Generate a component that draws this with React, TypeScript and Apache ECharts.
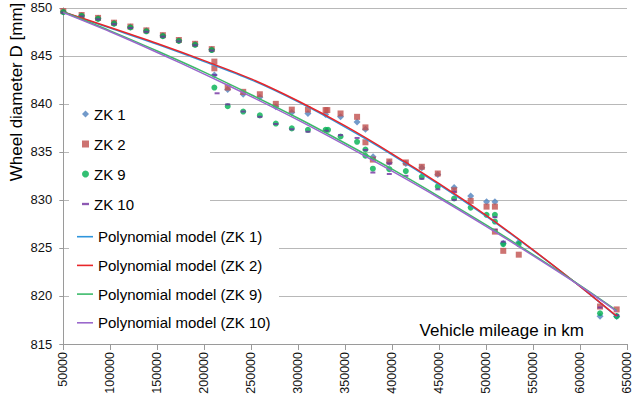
import React, { useEffect, useRef } from "react";
import * as echarts from "echarts";

const FONT = '"Liberation Sans", Arial, Helvetica, sans-serif';

const seriesNames = ["ZK 1", "ZK 2", "ZK 9", "ZK 10"];
const modelNames = [
  "Polynomial model (ZK 1)",
  "Polynomial model (ZK 2)",
  "Polynomial model (ZK 9)",
  "Polynomial model (ZK 10)",
];

// measured points: [vehicle mileage km, wheel diameter mm]
const zk1 = [
  [50000, 849.6], [69500, 849.2], [87000, 848.9], [104000, 848.4], [121400, 848.0],
  [138400, 847.6], [156000, 847.1], [173000, 846.6], [190300, 846.2], [208000, 845.65],
  [210800, 843.0], [225000, 841.5], [241500, 841.0], [259200, 840.7], [276200, 839.7],
  [293200, 839.1], [310400, 839.0], [329200, 838.9], [345100, 838.65], [362700, 838.1],
  [371600, 837.35], [379700, 834.5], [397000, 833.9], [414600, 833.8], [431600, 833.35],
  [448600, 832.65], [466000, 831.3], [483600, 830.4], [500500, 829.8], [509400, 829.8],
  [518300, 825.5], [534800, 825.6], [621300, 817.9], [639000, 817.85],
];
const zk2 = [
  [50000, 849.65], [69500, 849.25], [87000, 848.95], [104000, 848.45], [121400, 848.05],
  [138400, 847.65], [156000, 847.15], [173000, 846.65], [190300, 846.25], [208000, 845.7],
  [210800, 844.4], [210800, 843.7], [225000, 841.7], [241500, 841.25], [259200, 841.0],
  [276200, 840.0], [293200, 839.4], [310400, 839.4], [329200, 839.35], [331000, 839.35],
  [345100, 839.0], [362700, 838.65], [371600, 837.55], [371600, 836.0], [379500, 834.2],
  [397000, 834.0], [414600, 833.9], [431600, 833.45], [448600, 832.75], [466000, 831.0],
  [483600, 829.9], [500500, 829.3], [509400, 829.3], [509400, 826.7], [518300, 824.7],
  [534800, 824.3], [621300, 818.9], [639000, 818.6],
];
const zk9 = [
  [50000, 849.55], [69500, 849.15], [87000, 848.85], [104000, 848.35], [121400, 847.95],
  [138400, 847.55], [156000, 847.05], [173000, 846.55], [190300, 846.15], [208000, 845.6],
  [210800, 841.7], [225000, 839.75], [241500, 839.2], [259200, 838.8], [276200, 837.95],
  [293200, 837.45], [310400, 837.3], [329200, 837.3], [331800, 837.3], [345100, 836.6],
  [362700, 836.05], [371600, 835.25], [371600, 834.6], [379500, 833.25], [397000, 833.2],
  [414600, 833.0], [431600, 832.4], [448600, 831.4], [466000, 830.15], [483600, 829.2],
  [500500, 828.45], [509400, 828.45], [509400, 827.75], [518300, 825.4], [534800, 825.4],
  [621300, 818.2], [639000, 817.9],
];
const zk10 = [
  [50000, 849.5], [69500, 849.1], [87000, 848.8], [104000, 848.3], [121400, 847.9],
  [138400, 847.5], [156000, 847.0], [173000, 846.5], [190300, 846.1], [208000, 845.55],
  [210800, 843.0], [213700, 841.1], [225000, 839.95], [241500, 839.2], [259200, 838.65],
  [276200, 837.9], [293200, 837.35], [310400, 837.1], [330000, 837.2], [345100, 836.75],
  [362700, 836.45], [371600, 835.2], [379500, 834.3], [379500, 832.85], [397000, 833.8],
  [397000, 832.7], [414600, 832.5], [431600, 832.2], [448600, 831.1], [466000, 830.85],
  [466000, 830.0], [509400, 828.2], [509400, 826.9], [518300, 825.65], [621300, 818.8],
  [639000, 818.0],
];

// polynomial model curves
const modelKm = [50000, 100000, 150000, 200000, 250000, 300000, 350000, 400000, 450000, 500000, 550000, 600000, 639000];
const model1 = [849.56, 847.88, 846.2, 844.4, 842.5, 840.2, 837.58, 834.7, 831.6, 828.3, 824.75, 821.0, 817.85];
const model2 = [849.56, 847.95, 846.28, 844.5, 842.6, 840.3, 837.7, 834.8, 831.7, 828.4, 824.8, 821.0, 817.9];
const model9 = [849.56, 847.6, 845.5, 843.3, 840.95, 838.5, 835.9, 833.2, 830.35, 827.4, 824.3, 821.1, 818.48];
const model10 = [849.5, 847.5, 845.35, 843.1, 840.75, 838.3, 835.7, 833.0, 830.2, 827.25, 824.2, 821.05, 818.4];

const markerColors = ["#4f81bd", "#c0504d", "#00b050", "#7030a0"];
const lineColors = ["#2f95dc", "#e8262a", "#3dba6a", "#9a68cc"];

const dashIcon = "path://M0,0H6V2H0Z";
const lineIcon = "path://M0,0H16V1.6H0Z";

export default function App() {
  const ref = useRef<HTMLDivElement>(null);
  useEffect(() => {
    if (!ref.current) return;
    const chart = echarts.init(ref.current, undefined, { renderer: "svg" });
    const pts = [zk1, zk2, zk9, zk10];
    const models = [model1, model2, model9, model10];
    const symbols: any[] = ["diamond", "rect", "circle", dashIcon];
    const sizes: any[] = [7, 6, 6, [5, 2]];
    const scatter = seriesNames.map((n, i) => ({
      name: n,
      type: "scatter",
      data: pts[i],
      symbol: symbols[i],
      symbolSize: sizes[i],
      symbolKeepAspect: false,
      itemStyle: { color: markerColors[i] },
      z: 2,
    }));
    const lines = modelNames.map((n, i) => ({
      name: n,
      type: "line",
      data: modelKm.map((k, j) => [k, models[i][j]]),
      showSymbol: false,
      symbol: "none",
      smooth: 0.3,
      lineStyle: { color: lineColors[i], width: 1.5 },
      itemStyle: { color: lineColors[i] },
      z: 3,
    }));
    chart.setOption({
      animation: false,
      grid: { left: 63.3, right: 8, top: 7.8, bottom: 56, containLabel: false, outerBoundsMode: "none" },
      xAxis: {
        type: "value",
        min: 50000,
        max: 650000,
        interval: 50000,
        axisLine: { show: true, lineStyle: { color: "#9a9a9a" } },
        axisTick: { show: true, length: 6, lineStyle: { color: "#9a9a9a" } },
        splitLine: { show: false },
        axisLabel: {
          rotate: 90,
          margin: 8,
          fontSize: 12.5,
          color: "#111",
          fontFamily: FONT,
          formatter: (v: number) => String(v),
        },
      },
      yAxis: {
        type: "value",
        min: 815,
        max: 850,
        interval: 5,
        axisLine: { show: true, lineStyle: { color: "#9a9a9a" } },
        axisTick: { show: true, length: 4, lineStyle: { color: "#9a9a9a" } },
        splitLine: { show: true, lineStyle: { color: "#b8b8b8", width: 1 } },
        axisLabel: { margin: 11, fontSize: 13, color: "#111", fontFamily: FONT },
      },
      legend: [
        {
          data: seriesNames.map((n, i) => ({ name: n, icon: symbols[i] })),
          orient: "vertical",
          left: 82,
          top: 106.5,
          padding: 0,
          itemWidth: 7,
          itemHeight: 7,
          itemGap: 15,
          textStyle: { fontSize: 15, lineHeight: 15, color: "#000", fontFamily: FONT },
        },
        {
          data: modelNames.map((n) => ({ name: n, icon: lineIcon })),
          orient: "vertical",
          left: 77,
          top: 229.2,
          padding: 0,
          itemWidth: 16,
          itemHeight: 14,
          itemGap: 13.7,
          symbolKeepAspect: true,
          textStyle: { fontSize: 15, lineHeight: 15, color: "#000", fontFamily: FONT },
        },
      ],
      graphic: [
        { type: "rect", z: 1, silent: true, shape: { x: 69, y: 99, width: 141, height: 122 }, style: { fill: "#ffffff" } },
        { type: "rect", z: 1, silent: true, shape: { x: 69, y: 221, width: 210, height: 121 }, style: { fill: "#ffffff" } },
        {
          type: "text",
          x: 16,
          y: 92,
          rotation: Math.PI / 2,
          z: 5,
          style: { text: "Wheel diameter D [mm]", fontSize: 17, fontFamily: FONT, fill: "#000", align: "center", verticalAlign: "middle" },
        },
        {
          type: "text",
          x: 584,
          y: 330,
          z: 5,
          style: { text: "Vehicle mileage in km", fontSize: 17, fontFamily: FONT, fill: "#000", align: "right", verticalAlign: "middle" },
        },
      ],
      series: [...scatter, ...lines],
    });
    return () => chart.dispose();
  }, []);
  return <div ref={ref} style={{ position: "absolute", left: 0, top: 0, width: 635, height: 400 }} />;
}
